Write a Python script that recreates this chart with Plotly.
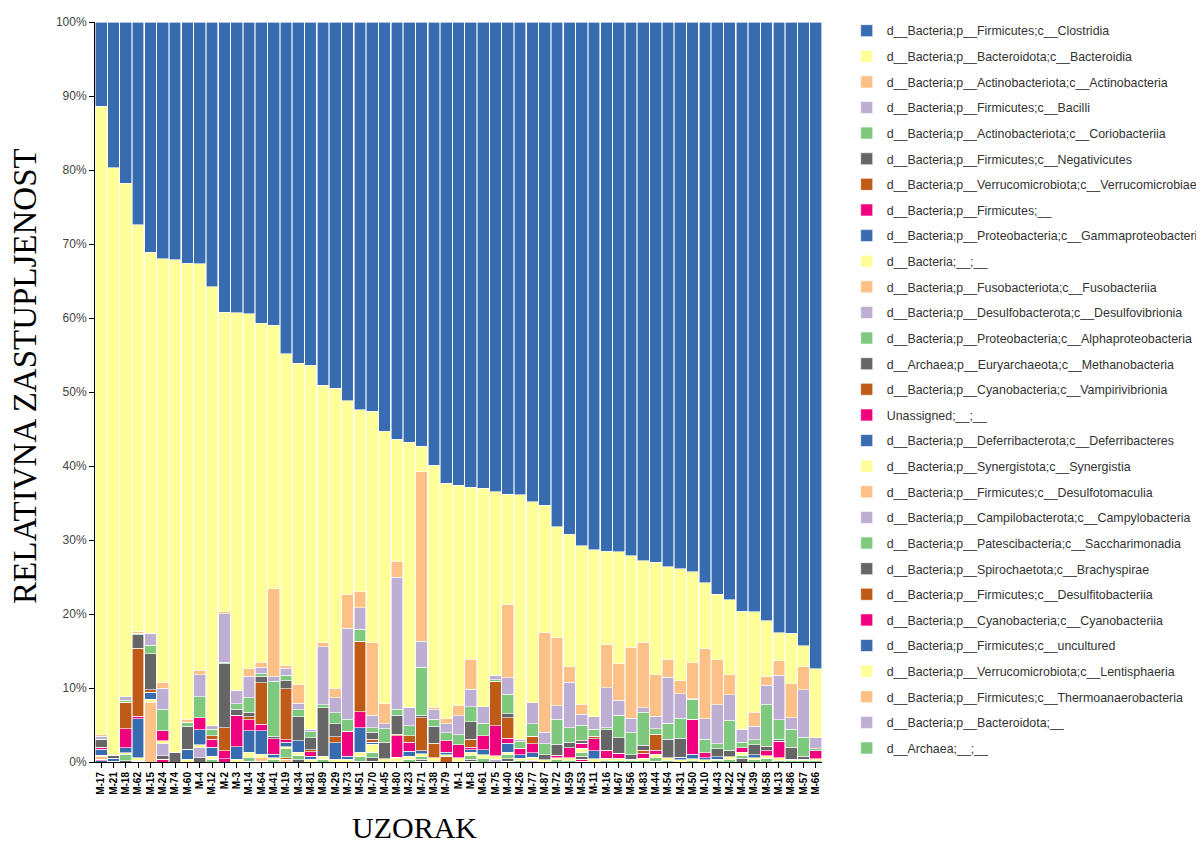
import plotly.graph_objects as go

# samples in plot order
samples = ["M-17", "M-21", "M-18", "M-62", "M-15", "M-24", "M-74", "M-60", "M-4", "M-12",
           "M-2", "M-3", "M-14", "M-64", "M-41", "M-19", "M-34", "M-81", "M-89", "M-29",
           "M-73", "M-51", "M-70", "M-45", "M-80", "M-23", "M-71", "M-38", "M-79", "M-1",
           "M-8", "M-61", "M-75", "M-40", "M-26", "M-77", "M-87", "M-72", "M-59", "M-53",
           "M-11", "M-16", "M-67", "M-56", "M-83", "M-44", "M-54", "M-31", "M-50", "M-10",
           "M-43", "M-22", "M-42", "M-39", "M-58", "M-13", "M-86", "M-57", "M-66"]

# relative abundance (%) per class, one value per sample
clostridia = [11.4, 19.7, 21.8, 27.4, 31.1, 32.0, 32.1, 32.6, 32.7, 35.8, 39.2, 39.3, 39.4, 40.7, 41.0,
              44.8, 46.1, 46.4, 49.1, 49.5, 51.2, 52.4, 52.6, 55.3, 56.4, 56.8, 57.3, 59.9, 62.3, 62.6,
              62.9, 63.0, 63.5, 63.8, 63.9, 64.8, 65.3, 68.2, 69.2, 70.8, 71.3, 71.5, 71.6, 72.1, 72.8,
              73.0, 73.6, 73.9, 74.3, 75.8, 77.3, 78.1, 79.6, 79.7, 80.9, 82.5, 82.6, 84.3, 87.4]
bacteroidia = [84.9, 79.3, 69.4, 55.0, 51.5, 57.3, 66.6, 61.6, 54.9, 59.3, 40.5, 51.0, 48.0, 45.8, 35.6,
               42.2, 43.4, 49.2, 34.8, 40.5, 26.1, 24.6, 31.3, 36.8, 16.5, 35.8, 3.5, 32.7, 31.8, 29.7,
               23.2, 29.5, 24.8, 14.9, 33.1, 27.2, 17.2, 15.0, 17.9, 21.4, 22.6, 12.6, 15.1, 12.4, 11.0,
               15.2, 12.5, 15.1, 12.3, 8.9, 8.9, 10.1, 16.0, 13.6, 7.5, 3.8, 6.8, 2.8, 9.3]
actinobacteria = [0.2, 0, 0, 0.2, 0, 0.75, 0, 0.45, 0.6, 0, 0.25, 0, 1.0, 0.7, 11.9,
                  0.3, 2.55, 0, 0.55, 1.35, 4.6, 2.15, 9.8, 2.7, 2.1, 0, 22.9, 0.35, 0.75, 1.45,
                  4.05, 0, 0, 9.9, 0, 0, 13.5, 9.2, 2.15, 1.35, 0, 5.85, 4.95, 9.6, 8.85,
                  5.6, 2.45, 1.8, 4.85, 9.45, 6.05, 2.7, 0, 1.9, 1.25, 1.95, 4.65, 3.15, 0]
bacilli = [0.4, 0.1, 0.45, 0, 1.65, 2.85, 0, 0, 3.0, 0.45, 6.6, 1.8, 2.9, 0.85, 0.6,
           1.0, 0.9, 0.3, 7.8, 2.0, 12.3, 2.9, 1.7, 0.7, 17.9, 2.5, 3.5, 1.25, 1.2, 2.55,
           2.35, 2.25, 0.6, 2.25, 0.2, 2.85, 1.5, 1.8, 6.15, 1.5, 1.7, 5.4, 2.05, 1.95, 0.6,
           1.7, 6.2, 3.3, 0.1, 2.8, 5.25, 3.45, 1.7, 1.8, 2.55, 6.05, 1.5, 6.4, 1.5]
coriobacteriia = [0.1, 0, 0.25, 0.2, 1.1, 2.9, 0, 0.5, 2.85, 0.9, 0.15, 0.8, 2.0, 0.35, 7.4,
                  0.7, 0.95, 0.8, 0.45, 1.45, 1.65, 1.65, 0.55, 1.8, 0.8, 1.35, 6.5, 1.0, 1.1, 1.35,
                  2.05, 1.7, 0.2, 2.65, 0.95, 1.65, 1.5, 3.4, 1.95, 2.0, 0.9, 0.3, 3.0, 3.0, 4.5,
                  0.75, 2.15, 2.7, 2.7, 1.8, 0.7, 4.05, 0.75, 0.65, 5.7, 2.6, 2.45, 2.6, 0.3]
negativicutes = [1.0, 0.4, 0, 1.8, 4.9, 0, 1.3, 3.15, 0, 0, 8.7, 0.8, 0.6, 0.9, 0.35,
                 1.1, 3.25, 1.65, 6.5, 1.8, 0, 0, 1.0, 2.25, 2.55, 0, 0.3, 2.25, 0, 0,
                 2.35, 0, 0, 0.55, 0, 0, 0.7, 1.5, 0.75, 0.4, 0, 2.75, 2.1, 0.55, 0.65,
                 0, 2.55, 2.55, 0, 0, 1.1, 0.9, 0, 1.35, 0.6, 0.3, 1.6, 0.35, 0]
verrucomicrobiae = [0.1, 0, 3.6, 9.2, 0.35, 0, 0, 0, 0, 0.45, 3.05, 0, 0.4, 5.6, 0,
                    6.9, 0, 0.25, 0, 0.8, 0, 9.5, 0.35, 0, 0.2, 0.9, 4.5, 2.0, 0, 0,
                    1.1, 0, 6.0, 2.75, 0, 1.0, 0, 0, 0, 0, 0.35, 0, 0, 0, 0.45,
                    2.15, 0, 0, 0, 0, 0, 0, 0, 0, 0, 0, 0, 0, 0]
firmicutes_na = [0.2, 0, 2.55, 0.35, 0, 1.35, 0, 0, 1.6, 1.1, 1.1, 4.25, 1.5, 0.9, 2.1,
                 0.35, 0, 0.6, 0, 0, 3.4, 2.15, 0, 0, 2.9, 1.2, 0, 0, 1.55, 1.8,
                 0.35, 1.9, 4.05, 0.65, 0.85, 1.25, 0, 0.3, 1.35, 0.7, 1.65, 1.1, 0.7, 0, 0.65,
                 0.55, 0, 0, 4.7, 0.65, 0, 0, 0.65, 0, 0.65, 2.25, 0, 0, 1.05]
gammaproteobacteria = [0.8, 0.4, 0.7, 5.3, 0.9, 0, 0, 1.35, 2.0, 1.25, 0, 1.7, 2.9, 3.15, 0.45,
                       0.6, 1.5, 0.4, 0, 2.25, 0.4, 3.3, 0.3, 0, 0, 0.65, 0.4, 0, 0.3, 0,
                       0.3, 0.7, 0, 1.2, 0.5, 0.6, 0, 0, 0, 0, 1.05, 0, 0, 0, 0,
                       0, 0, 0.35, 0.6, 0.3, 0.3, 0, 0, 0.4, 0, 0, 0, 0, 0]
bacteria_na = [0.2, 0, 0.2, 0.3, 0.45, 0.4, 0, 0.35, 0.45, 0.4, 0, 0.35, 0.7, 0.5, 0.3,
               0.25, 0.45, 0.4, 0.4, 0.35, 0.35, 0.6, 1.1, 0.45, 0.6, 0.4, 0.4, 0.5, 0.2, 0.5,
               0.5, 0.5, 0.5, 0.4, 0.3, 0.4, 0.3, 0.3, 0.35, 0.6, 0.45, 0.3, 0.3, 0.25, 0.3,
               0.5, 0.3, 0.3, 0.3, 0.3, 0.25, 0.4, 0.4, 0.3, 0.35, 0.3, 0.25, 0.25, 0.25]
fusobacteriia = [0.3, 0, 0, 0.15, 8.05, 0, 0, 0, 0, 0, 0, 0, 0, 0, 0,
                 0, 0, 0, 0, 0, 0, 0, 0, 0, 0, 0, 0, 0, 0, 0,
                 0, 0, 0, 0, 0, 0, 0, 0, 0, 0, 0, 0, 0, 0, 0,
                 0, 0, 0, 0, 0, 0, 0, 0, 0, 0, 0, 0, 0, 0]
desulfovibrionia = [0, 0, 0, 0, 0, 1.6, 0, 0, 1.35, 0, 0, 0, 0, 0, 0,
                    0, 0, 0, 0, 0, 0, 0, 0, 0, 0, 0, 0, 0, 0, 0,
                    0, 0, 0.35, 0, 0, 0.25, 0, 0, 0, 0, 0, 0, 0, 0, 0,
                    0, 0, 0, 0, 0, 0, 0, 0, 0, 0, 0, 0, 0, 0]
alphaproteobacteria = [0, 0.1, 0.9, 0, 0, 0, 0, 0, 0, 0.35, 0, 0, 0.5, 0, 0.3,
                       1.2, 0.6, 0, 0.4, 0, 0, 0.65, 0.75, 0, 0, 0.4, 0.3, 0, 0, 0,
                       0.45, 0.45, 0, 0.5, 0.2, 0, 0, 0.3, 0.2, 0.45, 0, 0.2, 0.2, 0.15, 0.2,
                       0.45, 0.25, 0, 0.15, 0, 0.15, 0.3, 0.4, 0.3, 0.5, 0.25, 0.15, 0.15, 0.2]
methanobacteria = [0, 0, 0.15, 0, 0, 0.5, 0, 0, 0.55, 0, 0, 0, 0, 0, 0,
                   0, 0.3, 0, 0, 0, 0, 0, 0.45, 0, 0, 0, 0.3, 0, 0, 0,
                   0.3, 0, 0, 0.35, 0, 0, 0, 0, 0, 0.45, 0, 0, 0, 0, 0,
                   0, 0, 0, 0, 0, 0, 0, 0.5, 0, 0, 0, 0, 0, 0]
vampirivibrionia = [0, 0, 0, 0, 0, 0, 0, 0, 0, 0, 0, 0, 0, 0, 0,
                    0.25, 0, 0, 0, 0, 0, 0, 0, 0, 0, 0, 0, 0, 0.8, 0,
                    0, 0, 0, 0, 0, 0, 0, 0, 0, 0, 0, 0, 0, 0, 0,
                    0, 0, 0, 0, 0, 0, 0, 0, 0, 0, 0, 0, 0, 0]
unassigned = [0.2, 0, 0, 0, 0, 0.35, 0, 0, 0, 0, 0.45, 0, 0, 0, 0,
              0, 0, 0, 0, 0, 0, 0, 0, 0, 0, 0, 0, 0, 0, 0,
              0, 0, 0, 0, 0, 0, 0, 0, 0, 0.25, 0, 0, 0, 0, 0,
              0, 0, 0, 0, 0, 0, 0, 0, 0, 0, 0, 0, 0, 0]
deferribacteres = [0.2, 0, 0, 0, 0, 0, 0, 0, 0, 0, 0, 0, 0, 0, 0,
                   0, 0, 0, 0, 0, 0, 0, 0, 0, 0, 0, 0, 0, 0, 0,
                   0, 0, 0, 0, 0, 0, 0, 0, 0, 0, 0, 0, 0, 0, 0,
                   0, 0, 0, 0, 0, 0, 0, 0, 0, 0, 0, 0, 0, 0]
synergistia = [0, 0, 0, 0, 0, 0, 0, 0, 0, 0, 0, 0, 0.1, 0, 0,
               0, 0, 0, 0, 0, 0, 0, 0, 0, 0, 0, 0, 0, 0, 0,
               0, 0, 0, 0, 0, 0, 0, 0, 0, 0, 0, 0, 0, 0, 0,
               0, 0, 0, 0, 0, 0, 0, 0, 0, 0, 0, 0, 0, 0]
desulfotomaculia = [0, 0, 0, 0, 0, 0, 0, 0, 0, 0, 0, 0, 0, 0.45, 0,
                    0.35, 0, 0, 0, 0, 0, 0, 0, 0, 0, 0, 0, 0, 0, 0,
                    0, 0, 0, 0, 0, 0, 0, 0, 0, 0, 0, 0, 0, 0, 0,
                    0, 0, 0, 0, 0, 0, 0, 0, 0, 0, 0, 0, 0, 0]
campylobacteria = [0, 0, 0, 0, 0, 0, 0, 0, 0, 0, 0, 0, 0, 0, 0,
                   0, 0, 0, 0, 0, 0, 0, 0.1, 0, 0, 0, 0, 0, 0, 0,
                   0, 0, 0, 0, 0, 0, 0, 0, 0, 0, 0, 0, 0, 0, 0,
                   0, 0, 0, 0, 0, 0, 0, 0, 0, 0, 0, 0, 0, 0]
saccharimonadia = [0, 0, 0, 0, 0, 0, 0, 0, 0, 0, 0, 0, 0, 0, 0,
                   0, 0, 0, 0, 0, 0, 0.1, 0, 0, 0, 0, 0, 0, 0, 0,
                   0.1, 0, 0, 0, 0, 0, 0, 0, 0, 0, 0, 0, 0, 0, 0,
                   0, 0, 0, 0, 0, 0, 0, 0, 0, 0, 0, 0, 0, 0]
brachyspirae = [0, 0, 0, 0, 0, 0, 0, 0, 0, 0, 0, 0, 0, 0, 0,
                0, 0, 0, 0, 0, 0, 0, 0, 0, 0, 0, 0, 0, 0, 0,
                0, 0, 0, 0, 0, 0, 0, 0, 0, 0.1, 0, 0, 0, 0, 0,
                0, 0, 0, 0, 0, 0, 0, 0, 0, 0, 0, 0, 0, 0]
desulfitobacteriia = [0, 0, 0, 0, 0, 0, 0, 0, 0, 0, 0, 0, 0, 0, 0,
                      0, 0, 0, 0, 0, 0, 0, 0, 0, 0.05, 0, 0, 0, 0, 0,
                      0, 0, 0, 0, 0, 0, 0, 0, 0, 0, 0, 0, 0, 0, 0,
                      0, 0, 0, 0, 0, 0, 0, 0, 0, 0, 0, 0, 0, 0]
cyanobacteriia = [0, 0, 0, 0, 0, 0, 0, 0, 0, 0, 0, 0, 0, 0, 0,
                  0, 0, 0, 0, 0, 0, 0, 0, 0, 0, 0, 0, 0, 0, 0,
                  0, 0, 0, 0, 0, 0, 0, 0, 0, 0, 0, 0, 0, 0, 0,
                  0.1, 0, 0, 0, 0, 0, 0, 0, 0, 0, 0, 0, 0, 0]
uncultured = [0, 0, 0, 0.1, 0, 0, 0, 0, 0, 0, 0, 0, 0, 0.1, 0,
              0, 0, 0, 0, 0, 0, 0, 0, 0, 0, 0, 0, 0, 0, 0,
              0, 0, 0, 0, 0, 0, 0, 0, 0, 0, 0, 0, 0, 0, 0,
              0, 0, 0, 0, 0, 0, 0, 0, 0, 0, 0, 0, 0, 0]
lentisphaeria = [0, 0, 0, 0, 0, 0, 0, 0, 0, 0, 0, 0, 0, 0, 0,
                 0, 0, 0, 0, 0, 0, 0, 0, 0, 0, 0, 0, 0.05, 0, 0,
                 0, 0, 0, 0, 0, 0, 0, 0, 0, 0, 0, 0, 0, 0, 0,
                 0, 0, 0, 0, 0, 0, 0, 0, 0, 0, 0, 0, 0, 0]
thermoanaerobacteria = [0, 0, 0, 0, 0, 0, 0, 0, 0, 0, 0, 0, 0, 0, 0,
                        0, 0, 0, 0, 0, 0, 0, 0, 0, 0, 0, 0, 0, 0, 0.05,
                        0, 0, 0, 0, 0, 0, 0, 0, 0, 0, 0, 0, 0, 0, 0,
                        0, 0, 0, 0, 0, 0, 0, 0, 0, 0, 0, 0, 0, 0]
bacteroidota_na = [0, 0, 0, 0, 0, 0, 0, 0, 0, 0, 0, 0, 0, 0, 0,
                   0, 0, 0, 0, 0, 0, 0, 0, 0, 0, 0, 0, 0, 0, 0,
                   0, 0, 0, 0.1, 0, 0, 0, 0, 0, 0, 0, 0, 0, 0, 0,
                   0, 0, 0, 0, 0, 0, 0, 0, 0, 0, 0, 0, 0, 0]
archaea_na = [0, 0, 0, 0, 0, 0, 0, 0, 0, 0, 0, 0, 0, 0, 0,
              0, 0, 0, 0, 0, 0, 0, 0, 0, 0, 0, 0.1, 0, 0, 0,
              0, 0, 0, 0, 0, 0, 0, 0, 0, 0, 0, 0, 0, 0, 0,
              0, 0, 0, 0, 0, 0, 0, 0, 0, 0, 0, 0, 0, 0]

# legend order = stack order from top to bottom
taxa = [
    ("d__Bacteria;p__Firmicutes;c__Clostridia", clostridia),
    ("d__Bacteria;p__Bacteroidota;c__Bacteroidia", bacteroidia),
    ("d__Bacteria;p__Actinobacteriota;c__Actinobacteria", actinobacteria),
    ("d__Bacteria;p__Firmicutes;c__Bacilli", bacilli),
    ("d__Bacteria;p__Actinobacteriota;c__Coriobacteriia", coriobacteriia),
    ("d__Bacteria;p__Firmicutes;c__Negativicutes", negativicutes),
    ("d__Bacteria;p__Verrucomicrobiota;c__Verrucomicrobiae", verrucomicrobiae),
    ("d__Bacteria;p__Firmicutes;__", firmicutes_na),
    ("d__Bacteria;p__Proteobacteria;c__Gammaproteobacteria", gammaproteobacteria),
    ("d__Bacteria;__;__", bacteria_na),
    ("d__Bacteria;p__Fusobacteriota;c__Fusobacteriia", fusobacteriia),
    ("d__Bacteria;p__Desulfobacterota;c__Desulfovibrionia", desulfovibrionia),
    ("d__Bacteria;p__Proteobacteria;c__Alphaproteobacteria", alphaproteobacteria),
    ("d__Archaea;p__Euryarchaeota;c__Methanobacteria", methanobacteria),
    ("d__Bacteria;p__Cyanobacteria;c__Vampirivibrionia", vampirivibrionia),
    ("Unassigned;__;__", unassigned),
    ("d__Bacteria;p__Deferribacterota;c__Deferribacteres", deferribacteres),
    ("d__Bacteria;p__Synergistota;c__Synergistia", synergistia),
    ("d__Bacteria;p__Firmicutes;c__Desulfotomaculia", desulfotomaculia),
    ("d__Bacteria;p__Campilobacterota;c__Campylobacteria", campylobacteria),
    ("d__Bacteria;p__Patescibacteria;c__Saccharimonadia", saccharimonadia),
    ("d__Bacteria;p__Spirochaetota;c__Brachyspirae", brachyspirae),
    ("d__Bacteria;p__Firmicutes;c__Desulfitobacteriia", desulfitobacteriia),
    ("d__Bacteria;p__Cyanobacteria;c__Cyanobacteriia", cyanobacteriia),
    ("d__Bacteria;p__Firmicutes;c__uncultured", uncultured),
    ("d__Bacteria;p__Verrucomicrobiota;c__Lentisphaeria", lentisphaeria),
    ("d__Bacteria;p__Firmicutes;c__Thermoanaerobacteria", thermoanaerobacteria),
    ("d__Bacteria;p__Bacteroidota;__", bacteroidota_na),
    ("d__Archaea;__;__", archaea_na),
]

palette = ["#386cb0", "#ffff99", "#fdc086", "#beaed4", "#7fc97f", "#666666", "#bf5b17", "#f0027f"]

fig = go.Figure()

# bottom of stack first, legend keeps the top-down order via legendrank
for i in reversed(range(len(taxa))):
    name, values = taxa[i]
    fig.add_trace(go.Bar(
        x=samples,
        y=values,
        name=name,
        legendgroup=name,
        legendrank=i + 1,
        marker=dict(color=palette[i % len(palette)], line=dict(color="white", width=0.6)),
    ))

fig.update_layout(
    width=1204,
    height=844,
    barmode="stack",
    bargap=0.05,
    plot_bgcolor="white",
    paper_bgcolor="white",
    # fixed margins so the long legend doesn't squeeze the plot
    margin=dict(l=87, r=390, t=14, b=90, autoexpand=False),
    font=dict(family="Liberation Sans, Arial, sans-serif", color="#333"),
    legend=dict(
        traceorder="grouped",
        tracegroupgap=6.5,
        x=1.034, y=1.008, xanchor="left", yanchor="top",
        maxheight=1.0,
        font=dict(size=12.4, color="#333"),
    ),
    showlegend=True,
)

fig.update_xaxes(
    type="category",
    tickmode="array",
    tickvals=samples,
    ticktext=samples,
    tickangle=-90,
    showline=True, linecolor="black", linewidth=1,
    ticks="outside", ticklen=5, tickcolor="black",
    tickfont=dict(size=10, color="black", weight="bold"),
    showgrid=False,
)
fig.update_yaxes(
    range=[0, 100],
    dtick=10,
    ticksuffix="%",
    showline=True, linecolor="black", linewidth=1,
    ticks="outside", ticklen=5, tickcolor="black",
    tickfont=dict(size=12, color="#444"),
    showgrid=False,
    zeroline=False,
)

# axis titles
fig.add_annotation(
    text="RELATIVNA ZASTUPLJENOST", textangle=-90,
    xref="paper", yref="paper", x=-0.096, y=0.522,
    xanchor="center", yanchor="middle",
    showarrow=False, font=dict(family="Liberation Serif, Times New Roman, serif", size=33, color="black"),
)
fig.add_annotation(
    text="UZORAK",
    xref="paper", yref="paper", x=0.44, y=-0.088,
    xanchor="center", yanchor="middle",
    showarrow=False, font=dict(family="Liberation Serif, Times New Roman, serif", size=30, color="black"),
)

fig.write_html("out.html")
